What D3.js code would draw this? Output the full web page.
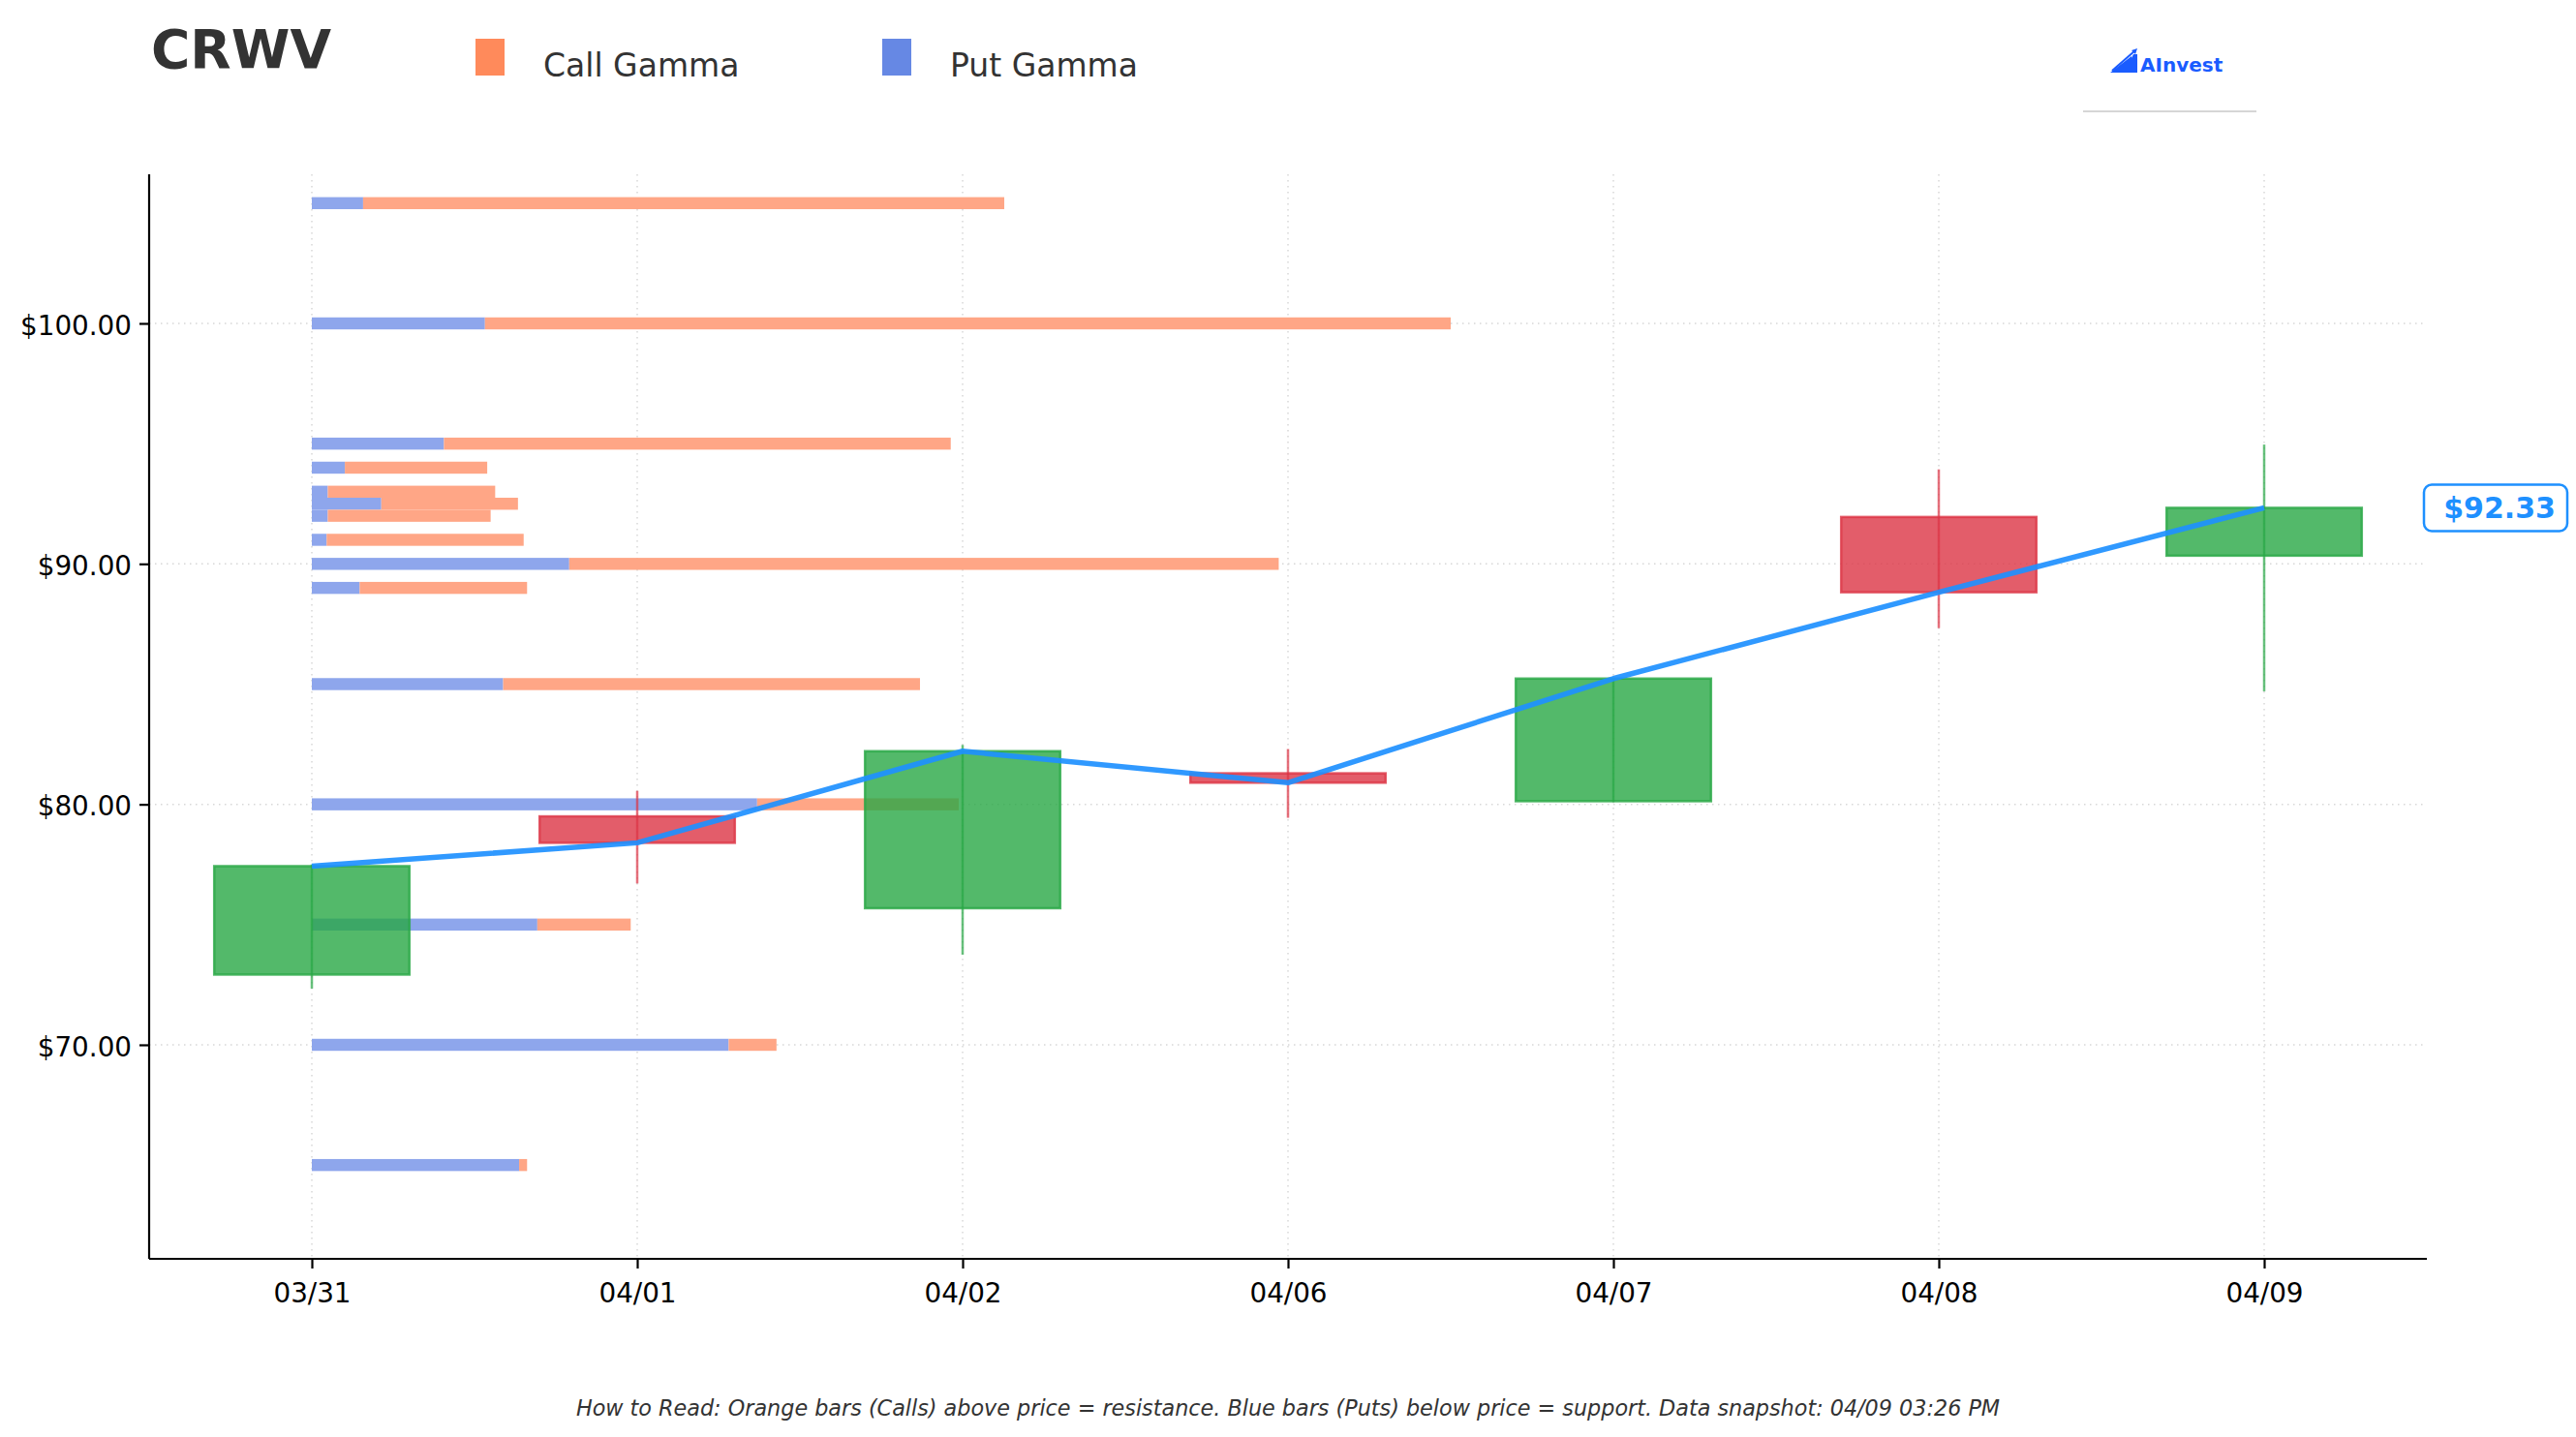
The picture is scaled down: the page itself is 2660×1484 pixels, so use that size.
<!DOCTYPE html>
<html>
<head>
<meta charset="utf-8">
<script src="https://cdnjs.cloudflare.com/ajax/libs/d3/7.8.5/d3.min.js"></script>
<style>
    body { margin: 0; background: #fff; }
    svg text { font-family: "DejaVu Sans", sans-serif; }
</style>
</head>
<body>
<svg id="chart"></svg>
<script>
// price data (daily candles)
const dates = ["03/31", "04/01", "04/02", "04/06", "04/07", "04/08", "04/09"];
const opens = [72.92, 79.50, 75.68, 81.29, 80.13, 91.95, 90.34];
const closes = [77.43, 78.40, 82.21, 80.90, 85.23, 88.82, 92.33];
const highs = [77.50, 80.56, 82.47, 82.30, 85.23, 93.93, 94.96];
const lows = [72.34, 76.71, 73.75, 79.44, 80.10, 87.33, 84.70];

// gamma by strike (relative units)
const strikes = [105, 100, 95, 94, 93, 92.5, 92, 91, 90, 89, 85, 80, 75, 70, 65];
const putGamma = [4.5, 15.2, 11.6, 2.9, 1.4, 6.1, 1.4, 1.3, 22.6, 4.2, 16.8, 39.1, 19.8, 36.6, 18.2];
const callGamma = [56.3, 84.8, 44.5, 12.5, 14.7, 12.0, 14.3, 17.3, 62.3, 14.7, 36.6, 17.7, 8.2, 4.2, 0.7];

const yTicks = [70, 80, 90, 100];
const lastPrice = 92.33;
const ticker = "CRWV";
const footnote = "How to Read: Orange bars (Calls) above price = resistance. Blue bars (Puts) below price = support. Data snapshot: 04/09 03:26 PM";

const W = 2660, H = 1484;
const plotLeft = 154, plotRight = 2506, plotTop = 180, plotBottom = 1300;

const svg = d3.select("#chart")
    .attr("width", W)
    .attr("height", H)
    .style("background", "#fff");

let x = d3.scalePoint()
    .domain(dates)
    .range([plotLeft, plotRight])
    .padding(0.5);
let step = x.step();

let y = d3.scaleLinear()
    .domain([61.1, 106.2])
    .range([plotBottom, plotTop]);

let maxTotal = d3.max(strikes, function (s, i) { return putGamma[i] + callGamma[i]; });
let g = d3.scaleLinear()
    .domain([0, maxTotal])
    .range([0, step * 3.5]);

// grid
let grid = svg.append("g").attr("class", "grid");
grid.selectAll("line.gx")
    .data(dates)
    .join("line")
    .attr("class", "gx")
    .attr("x1", d => x(d)).attr("x2", d => x(d))
    .attr("y1", plotTop).attr("y2", plotBottom)
    .style("stroke", "#d8d8d8")
    .style("stroke-width", 1.5)
    .style("stroke-dasharray", "1.5,4.5");
grid.selectAll("line.gy")
    .data(yTicks)
    .join("line")
    .attr("class", "gy")
    .attr("x1", plotLeft).attr("x2", plotRight)
    .attr("y1", d => y(d)).attr("y2", d => y(d))
    .style("stroke", "#d8d8d8")
    .style("stroke-width", 1.5)
    .style("stroke-dasharray", "1.5,4.5");

// gamma bars
let x0 = x(dates[0]);
let barH = y(0) - y(0.5);
let bars = svg.append("g").attr("class", "gamma");
bars.selectAll("rect.put")
    .data(strikes)
    .join("rect")
    .attr("class", "put")
    .attr("x", x0)
    .attr("y", d => y(d + 0.25))
    .attr("width", (d, i) => g(putGamma[i]))
    .attr("height", barH)
    .style("fill", "#8ea6ec");
bars.selectAll("rect.call")
    .data(strikes)
    .join("rect")
    .attr("class", "call")
    .attr("x", (d, i) => x0 + g(putGamma[i]))
    .attr("y", d => y(d + 0.25))
    .attr("width", (d, i) => g(callGamma[i]))
    .attr("height", barH)
    .style("fill", "#ffa686");

// candles
let candles = svg.append("g").attr("class", "candles");
let bodyW = step * 0.6;
let colorOf = function (i) { return closes[i] >= opens[i] ? "#28a745" : "#dc3545"; };

candles.selectAll("line.wick")
    .data(dates)
    .join("line")
    .attr("class", "wick")
    .attr("x1", d => x(d)).attr("x2", d => x(d))
    .attr("y1", (d, i) => y(highs[i]))
    .attr("y2", (d, i) => y(lows[i]))
    .style("stroke", (d, i) => colorOf(i))
    .style("stroke-width", 2.5)
    .style("opacity", 0.7);

candles.selectAll("rect.body")
    .data(dates)
    .join("rect")
    .attr("class", "body")
    .attr("x", d => x(d) - bodyW / 2)
    .attr("y", (d, i) => y(Math.max(opens[i], closes[i])))
    .attr("width", bodyW)
    .attr("height", (d, i) => Math.abs(y(opens[i]) - y(closes[i])))
    .style("fill", (d, i) => colorOf(i))
    .style("fill-opacity", 0.8)
    .style("stroke", (d, i) => colorOf(i))
    .style("stroke-opacity", 0.8)
    .style("stroke-width", 2.5);

// close line
let line = d3.line()
    .x(d => x(d))
    .y((d, i) => y(closes[i]));
svg.append("path")
    .datum(dates)
    .attr("d", line)
    .style("fill", "none")
    .style("stroke", "#1e90ff")
    .style("stroke-opacity", 0.92)
    .style("stroke-width", 5.5)
    .style("stroke-linejoin", "round");

// axes
let yAxis = d3.axisLeft(y)
    .tickValues(yTicks)
    .tickFormat(d => "$" + d.toFixed(2))
    .tickSize(10)
    .tickSizeOuter(0)
    .tickPadding(8);
let xAxis = d3.axisBottom(x)
    .tickSize(10)
    .tickSizeOuter(0)
    .tickPadding(15);

let ya = svg.append("g")
    .attr("transform", "translate(" + plotLeft + ",0)")
    .call(yAxis);
ya.select(".domain").attr("d", "M0," + plotTop + "V" + plotBottom);
ya.selectAll(".tick text").attr("dy", "0.4em");
let xa = svg.append("g")
    .attr("transform", "translate(0," + plotBottom + ")")
    .call(xAxis);
xa.select(".domain").attr("d", "M" + plotLeft + ",0H" + plotRight);

[ya, xa].forEach(function (a) {
    a.select(".domain").style("stroke", "#000").style("stroke-width", 2.2);
    a.selectAll(".tick line").style("stroke", "#000").style("stroke-width", 2.2);
    a.selectAll(".tick text")
        .style("font-family", "DejaVu Sans")
        .style("font-size", "27.8px")
        .style("fill", "#000");
});

// last price label
let py = y(lastPrice);
let label = svg.append("g").attr("transform", "translate(" + (plotRight - 3) + "," + py + ")");
label.append("rect")
    .attr("x", 0).attr("y", -24)
    .attr("width", 148).attr("height", 48)
    .attr("rx", 8)
    .style("fill", "#fff")
    .style("stroke", "#1e90ff")
    .style("stroke-width", 2.5);
label.append("text")
    .attr("x", 136).attr("y", 0)
    .attr("dy", "0.36em")
    .attr("text-anchor", "end")
    .style("font-size", "30px")
    .style("font-weight", "bold")
    .style("fill", "#1e90ff")
    .text("$" + lastPrice.toFixed(2));

// title + legend
svg.append("text")
    .attr("x", 156).attr("y", 70)
    .style("font-size", "55px")
    .style("font-weight", "bold")
    .style("fill", "#333")
    .text(ticker);

let legendItems = [
    { name: "Call Gamma", color: "#ff8a5b", x: 491 },
    { name: "Put Gamma", color: "#6688e4", x: 911 }
];
let lg = svg.selectAll("g.legend")
    .data(legendItems)
    .join("g")
    .attr("class", "legend")
    .attr("transform", d => "translate(" + d.x + ",0)");
lg.append("rect")
    .attr("x", 0).attr("y", 40)
    .attr("width", 30).attr("height", 38)
    .style("fill", d => d.color);
lg.append("text")
    .attr("x", 70).attr("y", 79)
    .style("font-size", "33px")
    .style("fill", "#333")
    .text(d => d.name);

// logo
let logo = svg.append("g").attr("transform", "translate(2179,0)");
logo.append("path")
    .attr("d", "M0,75 L22,58 L22,75 Z M14,75 L24,56 L28,56 L28,75 Z")
    .style("fill", "#1a5cff");
logo.append("path")
    .attr("d", "M2,73 L26,52")
    .style("stroke", "#1a5cff")
    .style("stroke-width", 2);
logo.append("path")
    .attr("d", "M22,52 L28,50 L26,56 Z")
    .style("fill", "#1a5cff");
logo.append("text")
    .attr("x", 31).attr("y", 74)
    .style("font-size", "20px")
    .style("font-weight", "bold")
    .style("fill", "#1a5cff")
    .text("AInvest");
svg.append("line")
    .attr("x1", 2151).attr("x2", 2330)
    .attr("y1", 115).attr("y2", 115)
    .style("stroke", "#c8c8c8")
    .style("stroke-width", 1.5);

// footnote
svg.append("text")
    .attr("x", W / 2).attr("y", 1462)
    .attr("text-anchor", "middle")
    .style("font-size", "22.3px")
    .style("font-style", "italic")
    .style("fill", "#333")
    .text(footnote);
</script>
</body>
</html>
